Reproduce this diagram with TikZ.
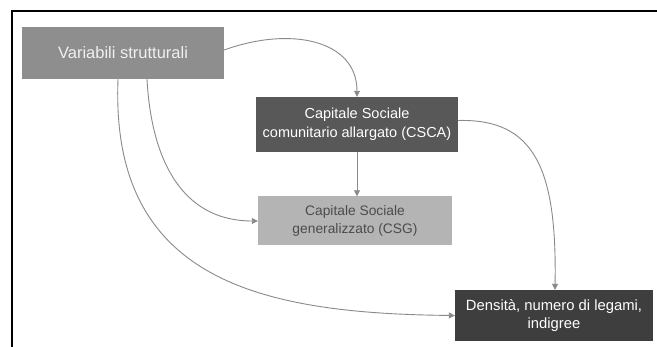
\documentclass[tikz,border=0pt]{standalone}
\usepackage{fontspec}
\setmainfont{Liberation Sans}
\usetikzlibrary{arrows.meta}
\definecolor{cvar}{HTML}{8E8E8E}
\definecolor{ccsca}{HTML}{585858}
\definecolor{ccsg}{HTML}{B4B4B4}
\definecolor{cden}{HTML}{3E3E3E}
\definecolor{cline}{HTML}{8A8A8A}
\definecolor{ctxt}{HTML}{4C4C4C}
\tikzset{
  box/.style={rectangle, inner sep=0pt, align=center, text=white},
  conn/.style={draw=cline, line width=0.9pt, -{Triangle[width=6pt,length=6pt]}},
}
\begin{document}
\begin{tikzpicture}[x=1pt,y=1pt]
\useasboundingbox (0,0) rectangle (657,347);
\fill[white] (0,0) rectangle (657,347);
\draw[line width=1.6pt, black] (12,0) -- (12,336) -- (657,336);
\node[box, fill=cvar, minimum width=202pt, minimum height=52pt, font=\fontsize{16.5}{19}\selectfont, text=white!94!black] (V) at (123,294) {Variabili strutturali};
\node[box, fill=ccsca, minimum width=202pt, minimum height=55pt, font=\fontsize{14.5}{18.5}\selectfont] (A) at (357,222.5) {Capitale Sociale\\comunitario allargato (CSCA)};
\node[box, fill=ccsg, minimum width=194pt, minimum height=49pt, font=\fontsize{13.8}{18}\selectfont, text=ctxt] (G) at (355,126) {Capitale Sociale\\generalizzato (CSG)};
\node[box, fill=cden, minimum width=198pt, minimum height=51pt, font=\fontsize{14.8}{17.5}\selectfont] (D) at (554,31.5) {\makebox[186pt][c]{Densit\`a, numero di legami,}\\\makebox[186pt][c]{indigree}};
\draw[conn] ([yshift=3pt]V.east) .. controls +(66,24) and +(0,57) .. (A.north);
\draw[conn] (A.south) -- (A.south |- G.north);
\draw[conn] ([xshift=24pt]V.south) .. controls +(5,-90) and +(-70,0) .. (G.west);
\draw[conn] ([xshift=-5pt]V.south) .. controls +(-8,-201) and +(-195,2) .. (D.west);
\draw[conn] ([yshift=4pt]A.east) .. controls +(77,2) and +(2,120) .. ([xshift=1pt]D.north);
\end{tikzpicture}
\end{document}
